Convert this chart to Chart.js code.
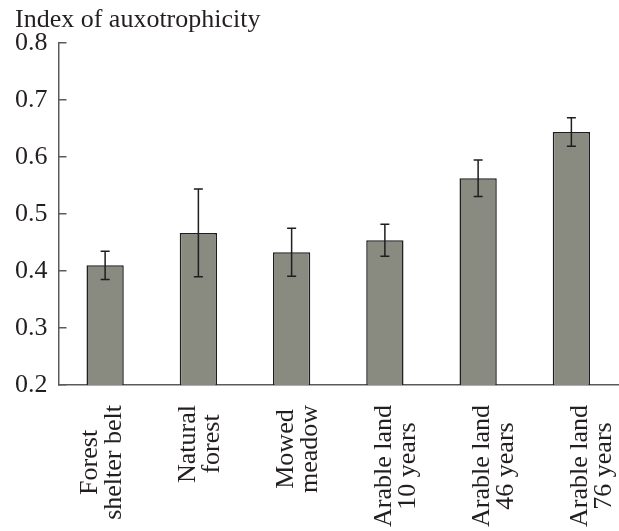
<!DOCTYPE html>
<html>
<head>
<meta charset="utf-8">
<script src="https://cdn.jsdelivr.net/npm/chart.js@4/dist/chart.umd.min.js"></script>
<style>
  html, body { margin: 0; padding: 0; background: #ffffff; }
  #wrap { width: 619px; height: 531px; position: relative; }
</style>
</head>
<body>
<div id="wrap"><canvas id="c"></canvas></div>
<script>
// Soil types (two-line category labels)
const categories = [
  ["Forest", "shelter belt"],
  ["Natural", "forest"],
  ["Mowed", "meadow"],
  ["Arable land", "10 years"],
  ["Arable land", "46 years"],
  ["Arable land", "76 years"]
];
// Mean index of auxotrophicity per soil
const auxIndex = [0.41, 0.467, 0.433, 0.454, 0.563, 0.644];
// Half-width of the error bar per soil
const auxError = [0.025, 0.077, 0.042, 0.028, 0.032, 0.025];
// Y axis ticks
const yTicks = [0.2, 0.3, 0.4, 0.5, 0.6, 0.7, 0.8];

const FONT = "'Liberation Serif', 'Times New Roman', serif";
const TEXT = '#231f20';
const AXIS = '#5a5a5a';

// Error bars with caps, placed with the chart's own scales
const errorBars = {
  id: 'errorBars',
  afterDatasetsDraw(chart) {
    const ctx = chart.ctx;
    const meta = chart.getDatasetMeta(0);
    const y = chart.scales.y;
    ctx.save();
    ctx.strokeStyle = '#1e1e1e';
    ctx.lineWidth = 1.5;
    meta.data.forEach((bar, i) => {
      const x = bar.x;
      const yTop = y.getPixelForValue(auxIndex[i] + auxError[i]);
      const yBot = y.getPixelForValue(auxIndex[i] - auxError[i]);
      const cap = 4.5;
      ctx.beginPath();
      ctx.moveTo(x, yTop); ctx.lineTo(x, yBot);
      ctx.moveTo(x - cap, yTop); ctx.lineTo(x + cap, yTop);
      ctx.moveTo(x - cap, yBot); ctx.lineTo(x + cap, yBot);
      ctx.stroke();
    });
    ctx.restore();
  }
};

// Vertical two-line category labels, lines centred on each other
const verticalLabels = {
  id: 'verticalLabels',
  afterDraw(chart) {
    const ctx = chart.ctx;
    const xs = chart.scales.x;
    const base = chart.chartArea.bottom;
    const lineGap = 24;
    ctx.save();
    ctx.font = '26px ' + FONT;
    ctx.fillStyle = TEXT;
    ctx.textAlign = 'center';
    ctx.textBaseline = 'alphabetic';
    categories.forEach((lines, i) => {
      const cx = xs.getPixelForTick(i) + 3.5 + 4.8 * i;
      const longest = Math.max(...lines.map(l => ctx.measureText(l).width));
      const cy = base + 20 + longest / 2;
      ctx.save();
      ctx.translate(cx, cy);
      ctx.rotate(-Math.PI / 2);
      lines.forEach((line, k) => {
        ctx.fillText(line, 0, (k - (lines.length - 1) / 2) * lineGap);
      });
      ctx.restore();
    });
    ctx.restore();
  }
};

new Chart(document.getElementById('c'), {
  type: 'bar',
  data: {
    labels: categories,
    datasets: [{
      data: auxIndex,
      backgroundColor: '#898a80',
      borderColor: '#1e1e1e',
      borderWidth: 1.5,
      barPercentage: 0.4,
      categoryPercentage: 1.0
    }]
  },
  options: {
    responsive: true,
    maintainAspectRatio: false,
    animation: false,
    devicePixelRatio: 1,
    layout: { padding: { left: 15, right: 1, top: 0, bottom: 146 } },
    plugins: {
      legend: { display: false },
      tooltip: { enabled: false },
      title: {
        display: true,
        text: 'Index of auxotrophicity',
        align: 'start',
        color: TEXT,
        font: { family: FONT, size: 26, weight: 'normal', lineHeight: 1.2 },
        padding: { top: 5, bottom: 7 }
      }
    },
    scales: {
      x: {
        offset: true,
        grid: { display: false, drawTicks: false },
        border: { display: true, color: AXIS, width: 1.5 },
        ticks: { display: false }
      },
      y: {
        min: 0.2,
        max: 0.8,
        afterBuildTicks(scale) { scale.ticks = yTicks.map(v => ({ value: v })); },
        afterFit(scale) { scale.width = 43.5; },
        grid: { display: true, drawOnChartArea: false, drawTicks: true, tickLength: -8, color: AXIS, lineWidth: 1.5 },
        border: { display: true, color: AXIS, width: 1.5 },
        ticks: {
          padding: 19,
          color: TEXT,
          font: { family: FONT, size: 26 },
          callback: v => Number(v).toFixed(1)
        }
      }
    }
  },
  plugins: [errorBars, verticalLabels]
});
</script>
</body>
</html>
